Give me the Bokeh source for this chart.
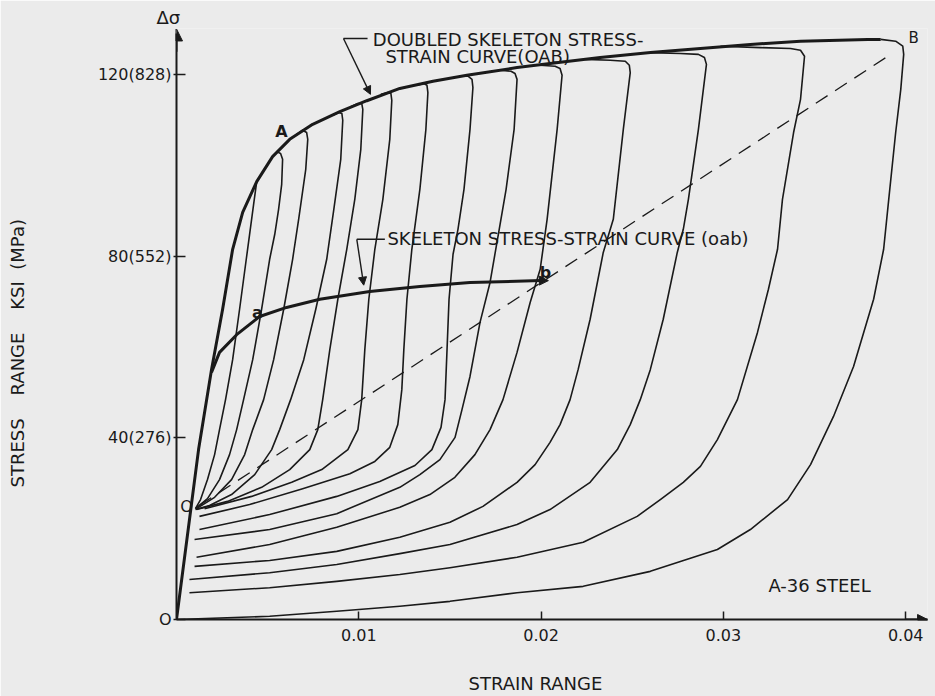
from bokeh.plotting import figure
from bokeh.models import Range1d, FixedTicker, Arrow, NormalHead, Label, Title
from bokeh.embed import file_html
from bokeh.resources import INLINE

# ---------------- data (strain range, stress range in ksi) ----------------
x_tick_values = [0.01, 0.02, 0.03, 0.04]
x_tick_labels = ["0.01", "0.02", "0.03", "0.04"]
y_tick_values = [0, 40, 80, 120]
y_tick_labels = ["O", "40(276)", "80(552)", "120(828)"]

# doubled skeleton stress-strain curve (OAB)
doubled_strain = [0, 0.00121, 0.00192, 0.00253, 0.00308, 0.00363, 0.00440, 0.00527, 0.00621,
                  0.00747, 0.00896, 0.01044, 0.01225, 0.01407, 0.01593, 0.01868, 0.02049,
                  0.02324, 0.02600, 0.02874, 0.03148, 0.03423, 0.03791, 0.03863]
doubled_stress = [0, 37.4, 55.0, 68.3, 81.5, 89.6, 96.4, 101.9, 105.7, 109.0, 111.8, 114.2,
                  116.9, 118.5, 119.8, 121.5, 122.4, 123.7, 124.8, 125.7, 126.6, 127.3, 127.7, 127.7]

# skeleton stress-strain curve (oab)
skeleton_strain = [0.00192, 0.00236, 0.00330, 0.00456, 0.00604, 0.00786, 0.01060, 0.01335,
                   0.01610, 0.02000]
skeleton_stress = [54.4, 58.8, 62.7, 66.7, 68.7, 70.5, 72.2, 73.3, 74.2, 74.6]

# dashed line O' - B
dashed_strain = [0.00126, 0.03918]
dashed_stress = [25.1, 124.4]

# descending (unloading) branches of the hysteresis loops
loop01_strain = [0.00440, 0.00423, 0.00401, 0.00379, 0.00346, 0.00308, 0.00269, 0.00236,
                 0.00209, 0.00170, 0.00132, 0.00104]
loop01_stress = [96.4, 91.4, 84.8, 78.2, 68.3, 57.2, 48.4, 41.8, 36.3, 30.8, 26.4, 24.4]

loop02_strain = [0.00550, 0.00571, 0.00582, 0.00577, 0.00560, 0.00539, 0.00511, 0.00467,
                 0.00418, 0.00368, 0.00330, 0.00291, 0.00236, 0.00170, 0.00104]
loop02_stress = [103.0, 102.6, 101.3, 95.8, 90.3, 84.8, 79.3, 68.3, 57.2, 48.4, 41.8, 36.3,
                 30.8, 26.6, 24.4]

loop03_strain = [0.00654, 0.00692, 0.00714, 0.00720, 0.00709, 0.00670, 0.00637, 0.00588,
                 0.00533, 0.00478, 0.00418, 0.00374, 0.00302, 0.00209, 0.00110]
loop03_stress = [106.6, 107.7, 107.2, 105.7, 99.1, 88.1, 79.3, 68.3, 57.2, 48.4, 41.8, 36.3,
                 30.8, 26.9, 24.4]

loop04_strain = [0.00857, 0.00890, 0.00907, 0.00912, 0.00901, 0.00863, 0.00824, 0.00764,
                 0.00698, 0.00626, 0.00566, 0.00522, 0.00429, 0.00302, 0.00181, 0.00104]
loop04_stress = [111.0, 111.6, 111.4, 109.9, 101.3, 90.3, 79.3, 68.3, 57.2, 48.4, 41.8, 37.4,
                 31.9, 27.5, 25.1, 24.2]

loop05_strain = [0.00956, 0.00995, 0.01016, 0.01022, 0.01011, 0.00978, 0.00934, 0.00885,
                 0.00841, 0.00802, 0.00775, 0.00731, 0.00621, 0.00467, 0.00280, 0.00110]
loop05_stress = [112.9, 113.6, 113.6, 112.3, 103.5, 92.5, 81.5, 70.5, 59.4, 48.4, 41.8, 37.4,
                 33.0, 29.1, 26.0, 24.2]

loop06_strain = [0.01121, 0.01159, 0.01176, 0.01181, 0.01170, 0.01132, 0.01088, 0.01055,
                 0.01033, 0.01016, 0.00995, 0.00940, 0.00797, 0.00632, 0.00412, 0.00154]
loop06_stress = [115.6, 116.0, 115.8, 114.3, 105.7, 92.5, 81.5, 70.5, 59.4, 48.4, 41.8, 37.4,
                 33.0, 30.2, 27.1, 24.4]

loop07_strain = [0.01319, 0.01357, 0.01374, 0.01379, 0.01368, 0.01335, 0.01291, 0.01264,
                 0.01247, 0.01236, 0.01214, 0.01170, 0.01088, 0.00951, 0.00692, 0.00401, 0.00126]
loop07_stress = [117.6, 118.0, 117.6, 116.0, 107.9, 94.7, 81.5, 70.5, 59.4, 50.6, 42.9, 37.9,
                 34.8, 32.1, 28.8, 25.3, 22.7]

loop08_strain = [0.01555, 0.01599, 0.01621, 0.01626, 0.01610, 0.01577, 0.01544, 0.01517,
                 0.01495, 0.01484, 0.01473, 0.01451, 0.01401, 0.01308, 0.01115, 0.00879,
                 0.00511, 0.00126]
loop08_stress = [119.6, 119.6, 118.9, 117.1, 107.9, 94.7, 85.9, 80.4, 70.5, 59.4, 48.4, 42.3,
                 37.4, 33.9, 30.4, 27.1, 23.1, 19.8]

loop09_strain = [0.01775, 0.01835, 0.01857, 0.01868, 0.01852, 0.01808, 0.01775, 0.01720,
                 0.01665, 0.01610, 0.01566, 0.01528, 0.01445, 0.01335, 0.01225, 0.00879,
                 0.00511, 0.00099]
loop09_stress = [120.9, 120.7, 120.2, 118.9, 107.9, 94.7, 87.0, 74.2, 65.4, 53.5, 46.2, 40.1,
                 35.2, 31.9, 29.1, 23.3, 19.8, 17.6]

loop10_strain = [0.01995, 0.02077, 0.02104, 0.02115, 0.02088, 0.02033, 0.01995, 0.01940,
                 0.01868, 0.01791, 0.01720, 0.01637, 0.01527, 0.01390, 0.01225, 0.00879,
                 0.00511, 0.00110]
loop10_stress = [122.0, 121.8, 121.3, 119.8, 107.9, 88.1, 77.1, 69.8, 58.8, 48.4, 41.8, 36.3,
                 31.3, 27.5, 24.7, 20.3, 16.5, 13.7]

loop11_strain = [0.02242, 0.02379, 0.02462, 0.02484, 0.02489, 0.02451, 0.02396, 0.02341,
                 0.02269, 0.02203, 0.02159, 0.02104, 0.02049, 0.01967, 0.01868, 0.01681,
                 0.01500, 0.01225, 0.00879, 0.00511, 0.00099]
loop11_stress = [123.3, 123.1, 122.9, 122.0, 120.4, 107.9, 88.1, 80.8, 66.1, 55.0, 48.4, 42.9,
                 39.0, 34.1, 30.2, 24.9, 21.4, 18.1, 15.0, 13.0, 11.7]

loop12_strain = [0.02600, 0.02764, 0.02863, 0.02896, 0.02907, 0.02863, 0.02808, 0.02780,
                 0.02747, 0.02670, 0.02599, 0.02544, 0.02489, 0.02418, 0.02269, 0.02049,
                 0.01868, 0.01500, 0.01225, 0.00879, 0.00511, 0.00071]
loop12_stress = [124.8, 124.6, 124.4, 123.7, 122.2, 107.9, 92.5, 85.9, 80.8, 66.1, 55.0, 48.4,
                 42.9, 37.4, 30.2, 24.2, 20.9, 16.5, 14.5, 12.1, 10.3, 8.8]

loop13_strain = [0.02984, 0.03203, 0.03368, 0.03423, 0.03445, 0.03423, 0.03385, 0.03324,
                 0.03297, 0.03247, 0.03187, 0.03077, 0.02967, 0.02874, 0.02780, 0.02654,
                 0.02527, 0.02231, 0.01868, 0.01500, 0.01225, 0.00879, 0.00511, 0.00071]
loop13_stress = [126.2, 125.9, 125.7, 125.3, 124.0, 114.5, 107.2, 92.5, 81.5, 72.7, 63.2, 48.4,
                 39.6, 33.7, 30.2, 26.4, 22.7, 17.0, 13.7, 11.4, 9.9, 8.4, 7.0, 5.9]

loop14_strain = [0.03863, 0.03945, 0.03984, 0.03989, 0.03973, 0.03945, 0.03907, 0.03879,
                 0.03824, 0.03714, 0.03604, 0.03478, 0.03352, 0.03148, 0.02967, 0.02599,
                 0.02231, 0.01868, 0.01500, 0.01225, 0.00879, 0.00511, 0.0]
loop14_stress = [127.7, 127.3, 126.2, 124.4, 116.7, 107.2, 92.5, 81.5, 70.5, 55.7, 44.7, 34.1,
                 26.4, 19.8, 15.4, 10.6, 7.3, 5.9, 4.0, 2.9, 1.8, 0.7, 0.0]

loops = [
    (loop01_strain, loop01_stress), (loop02_strain, loop02_stress),
    (loop03_strain, loop03_stress), (loop04_strain, loop04_stress),
    (loop05_strain, loop05_stress), (loop06_strain, loop06_stress),
    (loop07_strain, loop07_stress), (loop08_strain, loop08_stress),
    (loop09_strain, loop09_stress), (loop10_strain, loop10_stress),
    (loop11_strain, loop11_stress), (loop12_strain, loop12_stress),
    (loop13_strain, loop13_stress), (loop14_strain, loop14_stress),
]

# ---------------- styling ----------------
BG = "#ebebeb"
INK = "#1a1a1a"
FONT = "DejaVu Sans"
NB = "\u00a0"

p = figure(width=935, height=696, output_backend="svg", toolbar_location=None,
           x_range=Range1d(0, 0.041196), y_range=Range1d(0, 130.1),
           min_border_left=176, min_border_right=8, min_border_top=28, min_border_bottom=77)
p.outline_line_color = None
p.grid.visible = False
p.background_fill_color = BG
p.border_fill_color = BG

# Δσ heading above the stress axis
p.title.text = "Δσ"
p.title.align = "left"
p.title.offset = -20
p.title.standoff = 2
p.title.text_font = FONT
p.title.text_font_size = "18px"
p.title.text_font_style = "normal"
p.title.text_color = INK

xa = p.xaxis[0]
xa.ticker = FixedTicker(ticks=x_tick_values)
xa.major_label_overrides = dict(zip(x_tick_values, x_tick_labels))
xa.major_tick_in = 8
xa.major_tick_out = 0
xa.minor_tick_line_color = None
xa.axis_line_width = 2
xa.axis_line_color = INK
xa.major_tick_line_color = INK
xa.major_tick_line_width = 1.5
xa.major_label_text_font = FONT
xa.major_label_text_font_size = "16px"
xa.major_label_text_color = INK
xa.major_label_standoff = 9
xa.bounds = (0, 0.0412)

ya = p.yaxis[0]
ya.ticker = FixedTicker(ticks=y_tick_values)
ya.major_label_overrides = dict(zip(y_tick_values, y_tick_labels))
ya.major_tick_in = 9
ya.major_tick_out = 3
ya.minor_tick_line_color = None
ya.axis_line_width = 2
ya.axis_line_color = INK
ya.major_tick_line_color = INK
ya.major_tick_line_width = 1.5
ya.major_label_text_font = FONT
ya.major_label_text_font_size = "16px"
ya.major_label_text_color = INK
ya.major_label_standoff = 2
ya.bounds = (0, 129)

# axis titles as side titles (blank lines push the text outwards)
p.add_layout(Title(text=NB + "\n" + "STRAIN RANGE", align="left", offset=292, standoff=0,
                   text_font=FONT, text_font_size="18px", text_font_style="normal",
                   text_line_height=1.35, text_color=INK), "below")
p.add_layout(Title(text="STRESS" + NB * 4 + "RANGE" + NB * 4 + "KSI" + NB * 2 + "(MPa)"
                   + ("\n" + NB) * 3,
                   align="left", offset=132, standoff=8,
                   text_font=FONT, text_font_size="18px", text_font_style="normal",
                   text_line_height=1.0, text_color=INK), "left")

# axis arrowheads
p.add_layout(Arrow(end=NormalHead(size=12, fill_color=INK, line_color=INK),
                   x_start=0, y_start=125, x_end=0, y_end=130,
                   line_color=INK, line_width=2))
p.add_layout(Arrow(end=NormalHead(size=10, fill_color=INK, line_color=INK),
                   x_start=0.0400, y_start=0, x_end=0.0412, y_end=0,
                   line_color=INK, line_width=2))

# loops
for lx, ly in loops:
    p.line(lx, ly, line_color=INK, line_width=1.6, line_join="round")

# dashed line
p.line(dashed_strain, dashed_stress, line_color=INK, line_width=1.3, line_dash="14 9")

# skeleton curves
p.line(doubled_strain, doubled_stress, line_color=INK, line_width=3, line_join="round")
p.line(skeleton_strain, skeleton_stress, line_color=INK, line_width=3, line_join="round")
p.add_layout(Arrow(end=NormalHead(size=9, fill_color=INK, line_color=INK),
                   x_start=0.0199, y_start=74.6, x_end=0.0204, y_end=74.6,
                   line_color=INK, line_width=3))

# leader lines
p.line([0.01048, 0.00916], [127.9, 127.9], line_color=INK, line_width=1.4)
p.add_layout(Arrow(end=NormalHead(size=8, fill_color=INK, line_color=INK),
                   x_start=0.00916, y_start=127.9, x_end=0.01064, y_end=115.6,
                   line_color=INK, line_width=1.4))
p.line([0.01143, 0.00989], [83.7, 83.7], line_color=INK, line_width=1.4)
p.add_layout(Arrow(end=NormalHead(size=8, fill_color=INK, line_color=INK),
                   x_start=0.00989, y_start=83.7, x_end=0.01027, y_end=73.6,
                   line_color=INK, line_width=1.4))


def lab(x, y, text, size="18px", align="left", style="normal"):
    p.add_layout(Label(x=x, y=y, text=text, text_font=FONT, text_font_size=size,
                       text_color=INK, text_align=align, text_baseline="middle",
                       text_font_style=style))


lab(0.01077, 127.7, "DOUBLED SKELETON STRESS-")
lab(0.01146, 124.0, "STRAIN CURVE(OAB)")
lab(0.01157, 83.9, "SKELETON STRESS-STRAIN CURVE (oab)")
lab(0.03247, 7.5, "A-36 STEEL")
lab(0.00576, 107.4, "A", size="16px", align="center", style="bold")
lab(0.00444, 67.6, "a", size="16px", align="center", style="bold")
lab(0.02024, 76.4, "b", size="16px", align="center", style="bold")
lab(0.04043, 127.9, "B", size="15px", align="center")
lab(0.00055, 24.9, "O", size="16px", align="center")

open("out.html", "w").write(file_html(p, INLINE))
